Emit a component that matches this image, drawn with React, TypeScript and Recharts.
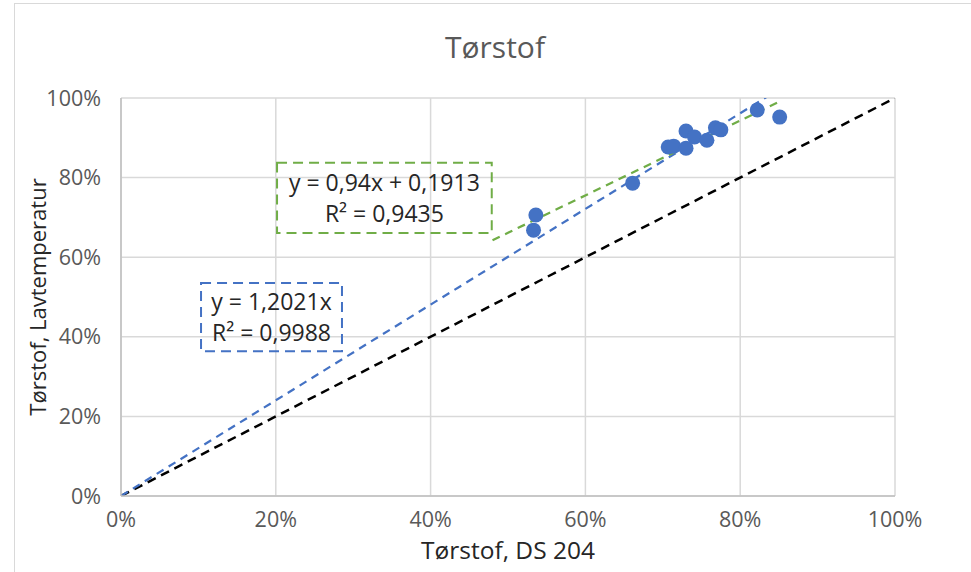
import {
	CartesianGrid,
	ReferenceArea,
	ReferenceLine,
	Scatter,
	ScatterChart,
	XAxis,
	YAxis,
} from "recharts";

const ds204 = [
	0.533, 0.536, 0.661, 0.707, 0.714, 0.73, 0.73, 0.741, 0.757, 0.768, 0.775,
	0.822, 0.851,
];
const lavtemperatur = [
	0.668, 0.706, 0.786, 0.877, 0.879, 0.917, 0.874, 0.902, 0.894, 0.925, 0.92,
	0.97, 0.952,
];
const axisTicks = [0, 0.2, 0.4, 0.6, 0.8, 1];

// trendlines as Excel reports them
const linearSlope = 0.94;
const linearIntercept = 0.1913;
const linearRange = [0.48, 0.85];
const zeroSlope = 1.2021;
const zeroRange = [0, 0.851];
const linearText = ["y = 0,94x + 0,1913", "R² = 0,9435"];
const zeroText = ["y = 1,2021x", "R² = 0,9988"];

const points = ds204.map((x, i) => ({ x, y: lavtemperatur[i] }));

const font = "'Open Sans', sans-serif";
const blue = "#4472C4";
const green = "#70AD47";

function BoxText({ viewBox, lines }: { viewBox?: any; lines: string[] }) {
	if (!viewBox) return null;
	const cx = viewBox.x + viewBox.width / 2;
	const cy = viewBox.y + viewBox.height / 2;
	return (
		<text
			x={cx}
			y={cy}
			textAnchor="middle"
			fontFamily={font}
			fontSize={23}
			fill="#262626"
		>
			<tspan x={cx} dy={-7}>
				{lines[0]}
			</tspan>
			<tspan x={cx} dy={31}>
				{lines[1]}
			</tspan>
		</text>
	);
}

export default function App() {
	const pct = (v: number) => `${Math.round(v * 100)}%`;
	const tick = { fill: "#595959", fontSize: 21.5, fontFamily: font };

	return (
		<div
			style={{
				position: "absolute",
				left: 0,
				top: 0,
				width: 971,
				height: 572,
				background: "#fff",
				overflow: "hidden",
				fontFamily: font,
			}}
		>
			<div
				style={{
					position: "absolute",
					left: 14,
					top: 3,
					width: 980,
					height: 600,
					border: "1.5px solid #d9d9d9",
				}}
			/>
			<div
				style={{
					position: "absolute",
					left: 0,
					width: 990,
					top: 26,
					textAlign: "center",
					fontSize: 30,
					color: "#595959",
				}}
			>
				Tørstof
			</div>
			<div
				style={{
					position: "absolute",
					left: 0,
					width: 1016,
					top: 533,
					textAlign: "center",
					fontSize: 24.5,
					color: "#262626",
				}}
			>
				Tørstof, DS 204
			</div>
			<div
				style={{
					position: "absolute",
					left: 37,
					top: 297,
					transform: "translate(-50%, -50%) rotate(-90deg)",
					whiteSpace: "nowrap",
					fontSize: 22,
					color: "#262626",
				}}
			>
				Tørstof, Lavtemperatur
			</div>
			<div style={{ position: "absolute", left: 0, top: 0 }}>
				<ScatterChart
					width={971}
					height={572}
					margin={{ top: 98, right: 76, bottom: 36, left: 61 }}
				>
					<CartesianGrid stroke="#d9d9d9" strokeWidth={1.5} />
					<XAxis
						type="number"
						dataKey="x"
						domain={[0, 1]}
						ticks={axisTicks}
						tickFormatter={pct}
						tick={tick}
						tickLine={false}
						tickMargin={10}
						height={40}
						axisLine={{ stroke: "#bfbfbf", strokeWidth: 1.5 }}
					/>
					<YAxis
						type="number"
						dataKey="y"
						domain={[0, 1]}
						ticks={axisTicks}
						tickFormatter={pct}
						tick={tick}
						tickLine={false}
						tickMargin={14}
						width={60}
						axisLine={{ stroke: "#bfbfbf", strokeWidth: 1.5 }}
					/>
					<ReferenceLine
						segment={[
							{ x: 0, y: 0 },
							{ x: 1, y: 1 },
						]}
						stroke="#000"
						strokeWidth={2.5}
						strokeDasharray="9 6"
						ifOverflow="hidden"
					/>
					<ReferenceLine
						segment={zeroRange.map((x) => ({ x, y: zeroSlope * x }))}
						stroke={blue}
						strokeWidth={2.25}
						strokeDasharray="8 6"
						ifOverflow="hidden"
					/>
					<ReferenceLine
						segment={linearRange.map((x) => ({
							x,
							y: linearSlope * x + linearIntercept,
						}))}
						stroke={green}
						strokeWidth={2.25}
						strokeDasharray="8 6"
						ifOverflow="hidden"
					/>
					<ReferenceArea
						x1={0.2016}
						x2={0.479}
						y1={0.661}
						y2={0.837}
						fill="#fff"
						fillOpacity={0}
						stroke={green}
						strokeWidth={2}
						strokeDasharray="10 6"
						label={(p: any) => <BoxText viewBox={p.viewBox} lines={linearText} />}
					/>
					<ReferenceArea
						x1={0.1034}
						x2={0.2855}
						y1={0.364}
						y2={0.535}
						fill="#fff"
						fillOpacity={0}
						stroke={blue}
						strokeWidth={2}
						strokeDasharray="10 6"
						label={(p: any) => <BoxText viewBox={p.viewBox} lines={zeroText} />}
					/>
					<Scatter
						data={points}
						fill={blue}
						isAnimationActive={false}
						shape={(p: any) => (
							<circle cx={p.cx} cy={p.cy} r={7.5} fill={blue} />
						)}
					/>
				</ScatterChart>
			</div>
		</div>
	);
}
